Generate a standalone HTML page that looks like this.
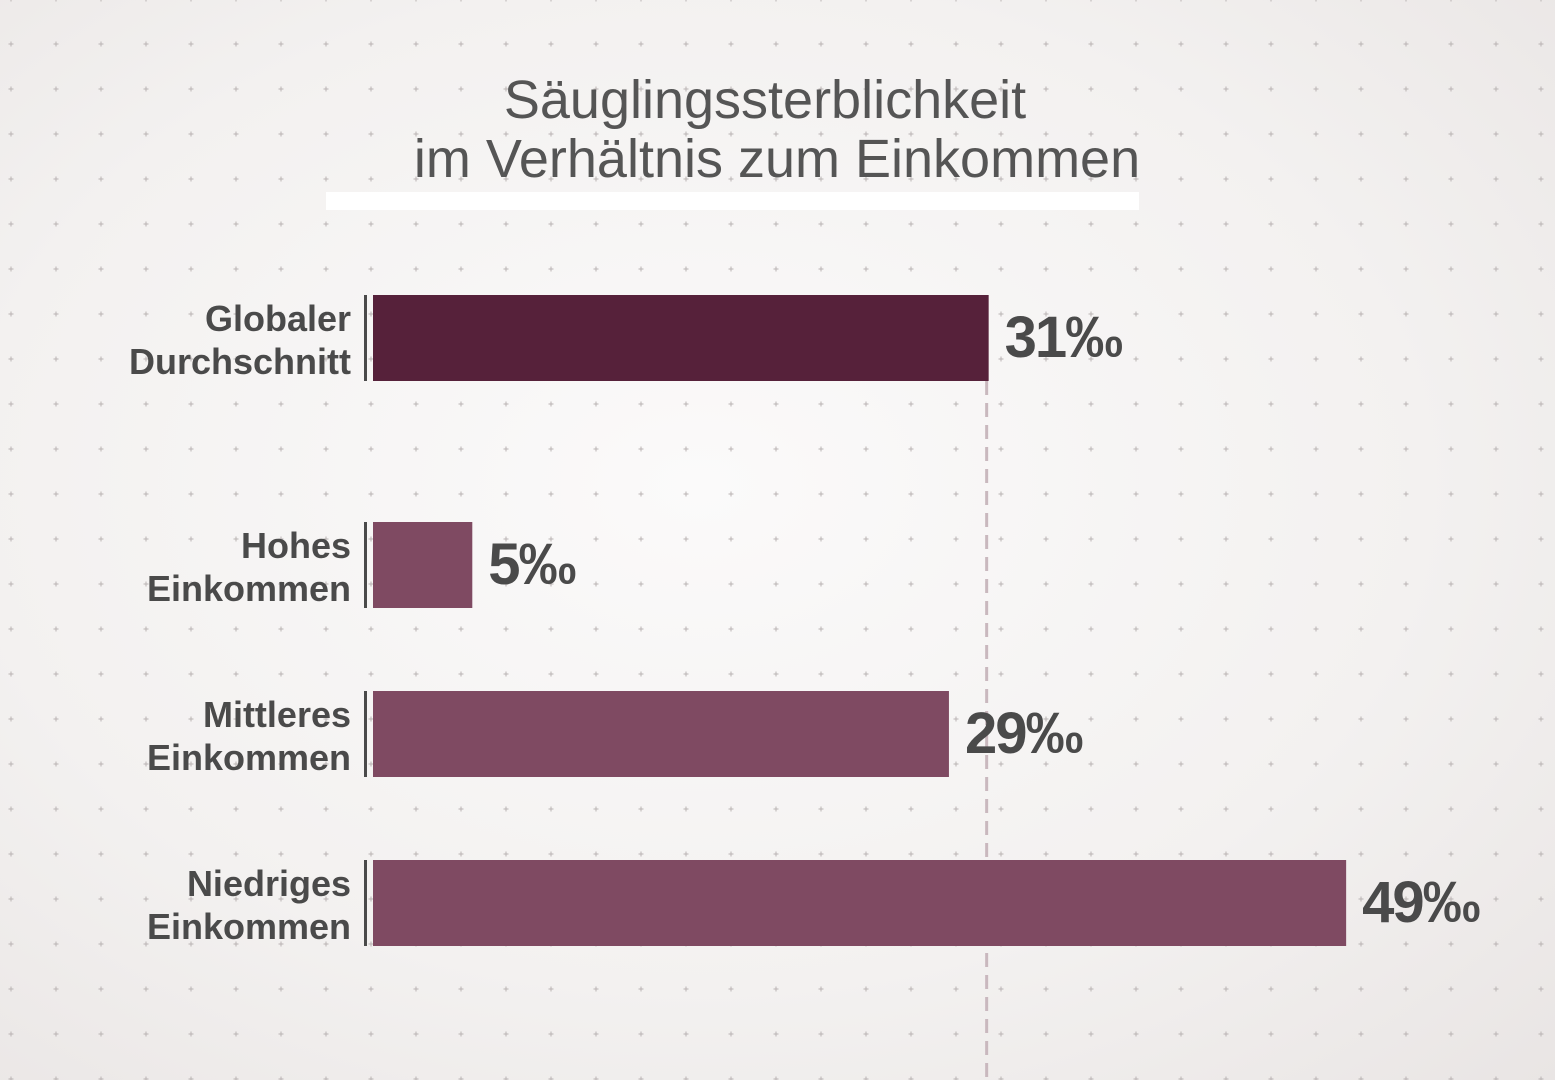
<!DOCTYPE html>
<html><head><meta charset="utf-8">
<style>
html,body{margin:0;padding:0;width:1555px;height:1080px;overflow:hidden;}
body{background:radial-gradient(ellipse at 45% 45%,#fbfafa 0%,#f3f1f0 60%,#e9e5e4 100%);font-family:"Liberation Sans",sans-serif;}
svg{position:absolute;left:0;top:0;}
</style></head>
<body>
<svg id="chart" width="1555" height="1080" viewBox="0 0 1555 1080">
  <defs>
    <pattern id="grid" x="11" y="44" width="45" height="45" patternUnits="userSpaceOnUse">
      <path d="M0 -2.5V2.5M-2.5 0H2.5" stroke="#b9b3b3" stroke-width="1" transform="translate(0,0)"/>
      <path d="M45 -2.5V2.5M42.5 0H47.5M0 42.5V47.5M-2.5 45H2.5M45 42.5V47.5M42.5 45H47.5" stroke="#b9b3b3" stroke-width="1"/>
    </pattern>
  </defs>
  <rect x="0" y="0" width="1555" height="1080" fill="url(#grid)"/>
  <text x="765" y="118" text-anchor="middle" font-size="54" fill="#555" font-weight="300">Säuglingssterblichkeit</text>
  <text x="777" y="177" text-anchor="middle" font-size="54" fill="#555" font-weight="300">im Verhältnis zum Einkommen</text>
  <rect x="326" y="192" width="813" height="18" fill="#ffffff"/>
  <g id="plot"></g>
</svg>
<script>
const categories1 = ["Globaler", "Hohes", "Mittleres", "Niedriges"];
const categories2 = ["Durchschnitt", "Einkommen", "Einkommen", "Einkommen"];
const values = [31, 5, 29, 49];
const valueLabels = ["31‰", "5‰", "29‰", "49‰"];

const NS = "http://www.w3.org/2000/svg";
const x0 = 373, pxPerUnit = 19.86;
const xScale = v => x0 + v * pxPerUnit;
const rowTops = [295, 522, 691, 860];
const barH = 86;
const plot = document.getElementById("plot");
function mk(tag, attrs){const e=document.createElementNS(NS,tag);for(const k in attrs)e.setAttribute(k,attrs[k]);return e;}

// reference dashed line at global average
const ref = mk("line",{x1:xScale(values[0])-2,x2:xScale(values[0])-2,y1:rowTops[0]+barH,y2:1080,stroke:"#c9b8be","stroke-width":3,"stroke-dasharray":"14 8"});


plot.appendChild(ref);

values.forEach((v,i)=>{
  const y = rowTops[i];
  const sep = mk("rect",{x:364,y:y,width:3,height:barH,fill:"#4a4a4a"});
  
  
  plot.appendChild(sep);
  const bar = mk("rect",{x:x0,y:y,width:xScale(v)-x0,height:barH,fill:i===0?"#56213a":"#7f4a62"});
  
  
  plot.appendChild(bar);
  const t1 = mk("text",{x:351,y:y+36,"text-anchor":"end","font-size":36,"font-weight":"bold",fill:"#4a4a4a"});
  t1.textContent = categories1[i];
  
  
  plot.appendChild(t1);
  const t2 = mk("text",{x:351,y:y+79,"text-anchor":"end","font-size":36,"font-weight":"bold",fill:"#4a4a4a"});
  t2.textContent = categories2[i];
  
  
  plot.appendChild(t2);
  const vl = mk("text",{x:xScale(v)+16,y:y+62,"font-size":58,"font-weight":"bold",fill:"#4a4a4a","letter-spacing":"-2"});
  vl.textContent = valueLabels[i];
  
  
  plot.appendChild(vl);
});
</script>
</body></html>
